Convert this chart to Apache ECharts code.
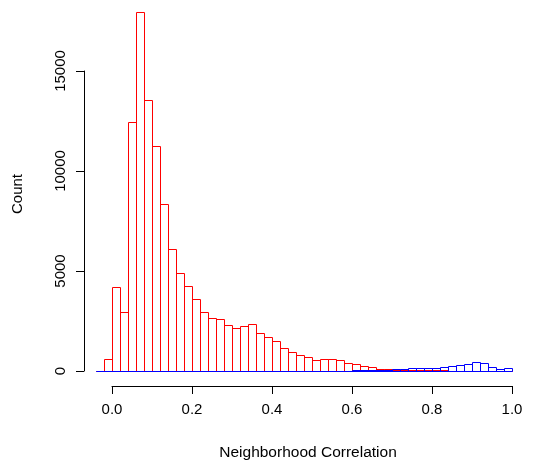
<!DOCTYPE html>
<html>
<head>
<meta charset="utf-8">
<script src="https://cdn.jsdelivr.net/npm/echarts@6/dist/echarts.min.js"></script>
<style>
html,body{margin:0;padding:0;background:#fff;}
#chart{width:536px;height:468px;}
</style>
</head>
<body>
<div id="chart"></div>
<script>
// Histogram bin edges (Neighborhood Correlation)
var binEdges = [-0.04,-0.02,0.00,0.02,0.04,0.06,0.08,0.10,0.12,0.14,0.16,0.18,0.20,0.22,0.24,0.26,0.28,0.30,0.32,0.34,0.36,0.38,0.40,0.42,0.44,0.46,0.48,0.50,0.52,0.54,0.56,0.58,0.60,0.62,0.64,0.66,0.68,0.70,0.72,0.74,0.76,0.78,0.80,0.82,0.84,0.86,0.88,0.90,0.92,0.94,0.96,0.98,1.00];
// Red histogram counts
var redCounts = [0,585,4217,2933,12467,17967,13567,11267,8367,6117,4917,4267,3600,2967,2633,2600,2317,2167,2233,2367,1883,1683,1483,1167,930,783,683,567,625,583,567,417,333,267,217,117,117,67,70,60,55,50,40,30,0,0,0,0,0,0,0,0];
// Blue histogram counts
var blueCounts = [0,0,0,0,0,0,0,0,0,0,0,0,0,0,0,0,0,0,0,0,0,0,0,0,0,0,0,10,15,20,20,25,30,30,35,40,50,80,100,140,170,175,175,200,240,317,350,440,385,183,80,140];
// Axis ticks
var xTicks = [0.0,0.2,0.4,0.6,0.8,1.0];
var yTicks = [0,5000,10000,15000];

// Outline of one histogram: every bin traced through the axis scales,
// then back along the base so flat bins are drawn too.
function outline(api, counts, color, order){
  var pts = [];
  var yb = Math.round(api.coord([binEdges[0], 0])[1]) + 0.5;
  for (var i = 0; i < counts.length; i++) {
    var a = api.coord([binEdges[i], counts[i]]);
    var b = api.coord([binEdges[i + 1], counts[i]]);
    var x0 = Math.round(a[0]) + 0.5, x1 = Math.round(b[0]) + 0.5;
    var yt = Math.round(a[1]) + 0.5;
    pts.push([x0, yb], [x0, yt], [x1, yt], [x1, yb]);
  }
  pts.push([pts[0][0], yb]);
  return {type:'polyline', z2:order, shape:{points:pts}, style:{fill:null, stroke:color, lineWidth:1}};
}
function renderHist(params, api){
  // red first, blue drawn over it
  return {type:'group', children:[
    outline(api, redCounts, '#ff0000', 1),
    outline(api, blueCounts, '#0000ff', 2)
  ]};
}
var FONT = 'Liberation Sans, Arial, Helvetica, sans-serif';
var FS = 15;
var chart = echarts.init(document.getElementById('chart'), null, {renderer:'canvas'});
chart.setOption({
  animation:false,
  backgroundColor:'#fff',
  grid:[
    {left:84, width:448, top:7, height:374},
    {left:112, width:400, top:71, height:300}
  ],
  xAxis:[
    {gridIndex:0, type:'value', min:-0.07, max:1.05, axisLine:{show:false}, axisTick:{show:false},
     axisLabel:{show:false}, splitLine:{show:false},
     name:'Neighborhood Correlation', nameLocation:'middle', nameGap:64,
     nameTextStyle:{color:'#000', fontSize:15.5, fontFamily:FONT}},
    {gridIndex:1, type:'value', min:xTicks[0], max:xTicks[xTicks.length-1], interval:0.2, offset:15,
     axisLine:{show:true, onZero:false, lineStyle:{color:'#000', width:1}},
     axisTick:{show:true, length:8, lineStyle:{color:'#000'}},
     axisLabel:{show:true, margin:16, color:'#000', fontSize:FS, fontFamily:FONT,
       formatter:function(v){return v.toFixed(1);}},
     splitLine:{show:false}}
  ],
  yAxis:[
    {gridIndex:0, type:'value', min:-500, max:18200, axisLine:{show:false}, axisTick:{show:false},
     axisLabel:{show:false}, splitLine:{show:false},
     name:'Count', nameLocation:'middle', nameGap:59,
     nameTextStyle:{color:'#000', fontSize:FS, fontFamily:FONT}},
    {gridIndex:1, type:'value', min:yTicks[0], max:yTicks[yTicks.length-1], interval:5000, offset:28,
     axisLine:{show:true, onZero:false, lineStyle:{color:'#000', width:1}},
     axisTick:{show:true, length:8, lineStyle:{color:'#000'}},
     axisLabel:{show:true, rotate:90, margin:16, color:'#000', fontSize:FS, fontFamily:FONT,
       formatter:function(v){return String(v);}},
     splitLine:{show:false}}
  ],
  series:[
    {type:'custom', xAxisIndex:0, yAxisIndex:0, clip:false, renderItem:renderHist,
     data:[[binEdges[0], 0]], z:2}
  ]
});
</script>
</body>
</html>
